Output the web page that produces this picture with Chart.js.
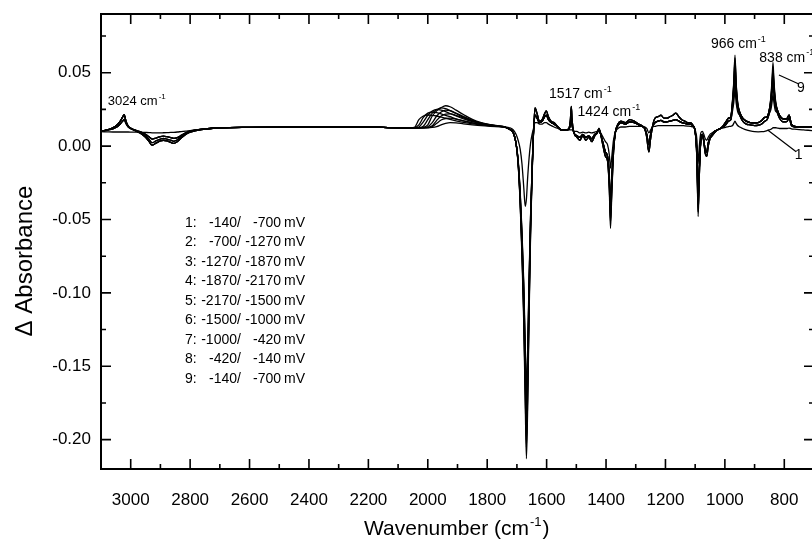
<!DOCTYPE html>
<html>
<head>
<meta charset="utf-8">
<script src="https://cdn.jsdelivr.net/npm/chart.js@4.4.1/dist/chart.umd.min.js"></script>
<style>
html, body { margin: 0; padding: 0; background: #fff; overflow: hidden; }
#wrap { position: relative; width: 814px; height: 543px; }
</style>
</head>
<body>
<div id="wrap"><canvas id="chart"></canvas></div>
<script>
// wavenumber grid (cm-1), shared by all nine difference spectra
const wavenumbers = [
  3100,3080,3060,3045,3035,3028,3022,3016,3008,2995,2980,2965,2950,2938,2928,2915,2900,2890,2878,2865,2855,2843,2830,2815,2800,2780,2750,2700,2600,2400,2200,
  2100,2060,2045,2030,2015,2000,1985,1970,1955,1940,1925,1905,1880,1850,1820,1790,1760,
  1740,1725,1712,1703,1696,1689,1683,1677,1672,1668,1664,1659,1654,1649,1644,1639,1632,1624,1615,1607,1601,1594,1585,1575,1562,
  1550,1535,1525,1520,1517,1514,1508,1498,1488,1478,1468,1458,1448,1438,1430,1424,1418,1410,1402,1395,1389,1385,1381,1375,1368,1360,1350,1335,1320,1305,
  1290,1280,1270,1263,1256,1250,1243,1235,1225,1215,1205,1195,1185,1175,1165,1155,1145,1135,1125,1115,1107,1100,1094,1090,1086,1081,1076,1071,1066,1061,1056,1050,1043,1035,1025,1015,
  1005,995,988,980,974,970,966,962,957,950,940,928,915,900,888,876,866,858,851,845,841,838,835,830,824,816,808,800,795,790,784,776,765,750,735,720,700
];

const abs1 = [
  .0098,.0097,.0096,.0096,.0096,.0096,.0096,.0096,.0096,.0095,.0095,.0094,.0093,.0092,.009,.009,.009,.0091,.0092,.0093,.0094,.0096,.0099,.0102,.0106,.011,.0117,.0124,.0128,.013,.013,
  .0125,.0125,.0125,.0125,.0125,.0125,.0127,.0133,.0145,.0155,.016,.0158,.0152,.0145,.0139,.0135,.0132,
  .013,.0125,.011,.008,.004,-.002,-.012,-.028,-.041,-.036,-.022,-.008,.002,.008,.012,.016,.016,.015,.015,.016,.016,.015,.014,.013,.012,
  .011,.011,.011,.011,.011,.011,.010,.010,.009,.0095,.009,.0095,.009,.0095,.010,.011,.009,.006,.003,.001,-.006,-.015,-.008,.004,.010,.012,.013,.013,.0135,.0135,
  .0135,.0135,.013,.012,.009,.011,.013,.0135,.014,.014,.014,.014,.014,.014,.014,.014,.014,.0138,.0136,.0134,.013,.011,.004,-.012,.000,.009,.010,.008,.005,.004,.006,.008,.009,.010,.011,.012,
  .0125,.013,.0133,.0135,.014,.0155,.017,.0155,.014,.013,.012,.011,.0103,.0098,.0097,.0098,.010,.0105,.011,.0115,.012,.0125,.0125,.0125,.0123,.012,.012,.012,.012,.012,.0123,.0118,.0115,.0112,.011,.0108,.0105
];
const abs2 = [
  .010,.0108,.0118,.0132,.015,.0168,.018,.0155,.013,.0115,.0105,.0095,.008,.0063,.0048,.0055,.0065,.0068,.0064,.0058,.0052,.0058,.0073,.009,.0102,.011,.0118,.0125,.0128,.013,.013,
  .0125,.0125,.0128,.018,.0205,.0212,.021,.0205,.0198,.019,.0182,.0172,.0162,.0152,.0145,.0138,.0133,
  .013,.0115,.009,.002,-.009,-.031,-.058,-.093,-.136,-.165,-.14,-.089,-.047,-.016,.010,.021,.019,.016,.017,.020,.021,.018,.016,.015,.013,
  .011,.011,.0115,.015,.020,.014,.009,.007,.006,.008,.006,.007,.005,.008,.009,.011,.008,.002,-.004,-.007,-.019,-.039,-.022,-.002,.010,.014,.016,.015,.0165,.016,
  .0145,.0135,.012,.008,.001,.008,.0135,.016,.017,.0175,.0165,.0165,.017,.0175,.018,.017,.016,.0155,.015,.015,.0135,.010,-.006,-.032,-.015,.004,.008,.004,-.003,-.004,.002,.006,.008,.010,.011,.012,
  .013,.015,.017,.018,.0244,.0298,.038,.0294,.0235,.021,.017,.015,.0145,.014,.0142,.015,.017,.018,.022,.025,.0302,.035,.0298,.0241,.023,.019,.017,.0165,.0165,.017,.019,.014,.013,.0128,.0127,.0127,.0127
];
const abs3 = [
  .010,.0108,.0118,.0132,.015,.0168,.018,.0155,.013,.0115,.0105,.0095,.008,.0063,.0048,.0055,.0065,.0068,.0064,.0058,.0052,.0058,.0073,.009,.0102,.011,.0118,.0125,.0128,.013,.013,
  .0125,.0125,.0126,.0145,.0195,.0225,.0232,.0228,.022,.021,.02,.0186,.0172,.0158,.0148,.014,.0134,
  .013,.0115,.009,.002,-.010,-.033,-.062,-.098,-.144,-.175,-.148,-.094,-.049,-.016,.010,.021,.019,.016,.017,.020,.021,.018,.016,.015,.013,
  .011,.011,.0115,.015,.020,.014,.009,.007,.006,.008,.006,.007,.005,.008,.009,.011,.008,.002,-.004,-.007,-.021,-.043,-.024,-.002,.010,.014,.016,.015,.0165,.016,
  .0145,.0135,.012,.008,.001,.008,.0135,.016,.017,.0175,.0165,.0165,.017,.0175,.018,.017,.016,.0155,.015,.015,.0135,.010,-.006,-.036,-.015,.004,.008,.004,-.003,-.004,.002,.006,.008,.010,.011,.012,
  .013,.015,.017,.018,.0272,.0351,.047,.0345,.0259,.021,.017,.015,.0145,.014,.0142,.015,.017,.018,.022,.0287,.0367,.044,.036,.0273,.023,.019,.017,.0165,.0165,.017,.019,.014,.013,.0128,.0127,.0127,.0127
];
const abs4 = [
  .010,.011,.0125,.0145,.017,.0195,.0215,.017,.0135,.0115,.010,.0085,.006,.003,.0007,.002,.0035,.004,.0035,.0025,.0018,.003,.0055,.008,.0095,.0105,.0115,.0125,.0128,.013,.013,
  .0125,.0125,.0125,.013,.0165,.021,.0238,.025,.0245,.0235,.0222,.0205,.0186,.0166,.0152,.0142,.0135,
  .013,.0115,.009,.002,-.011,-.036,-.067,-.107,-.156,-.19,-.160,-.102,-.053,-.018,.010,.021,.019,.016,.017,.020,.021,.018,.016,.015,.013,
  .011,.011,.0115,.015,.020,.014,.009,.007,.006,.008,.006,.007,.005,.008,.009,.011,.008,.002,-.004,-.007,-.023,-.047,-.026,-.002,.010,.014,.016,.015,.0165,.016,
  .0145,.0135,.012,.008,.001,.008,.0135,.016,.017,.0175,.0165,.0165,.017,.0175,.018,.017,.016,.0155,.015,.015,.0135,.010,-.006,-.040,-.015,.004,.008,.004,-.003,-.004,.002,.006,.008,.010,.011,.012,
  .013,.015,.017,.018,.0275,.0357,.048,.0351,.0262,.021,.017,.015,.0145,.014,.0142,.015,.017,.018,.022,.0295,.0381,.046,.0374,.0281,.023,.019,.017,.0165,.0165,.017,.019,.014,.013,.0128,.0127,.0127,.0127
];
const abs5 = [
  .010,.011,.0125,.0145,.017,.0195,.0215,.017,.0135,.0115,.010,.0085,.006,.003,.0007,.002,.0035,.004,.0035,.0025,.0018,.003,.0055,.008,.0095,.0105,.0115,.0125,.0128,.013,.013,
  .0125,.0125,.0125,.0126,.0135,.018,.0225,.0248,.026,.0255,.0242,.0222,.0198,.0174,.0156,.0144,.0136,
  .013,.0115,.009,.002,-.012,-.038,-.072,-.115,-.168,-.205,-.173,-.110,-.058,-.019,.010,.026,.022,.017,.018,.022,.024,.020,.017,.016,.013,
  .011,.011,.012,.018,.027,.017,.009,.006,.004,.007,.004,.006,.003,.007,.009,.012,.008,.000,-.007,-.010,-.028,-.052,-.033,-.005,.010,.015,.017,.016,.018,.017,
  .015,.014,.012,.006,-.004,.005,.014,.019,.020,.021,.019,.019,.020,.021,.0225,.020,.018,.017,.016,.016,.014,.010,-.010,-.045,-.020,.004,.008,.003,-.005,-.007,.000,.005,.007,.009,.011,.012,
  .014,.017,.019,.020,.0288,.0381,.052,.0373,.0273,.023,.019,.017,.016,.0158,.016,.0175,.0195,.020,.024,.0303,.0395,.048,.0388,.0288,.025,.021,.019,.0185,.0185,.019,.021,.015,.0135,.0132,.013,.013,.013
];
const abs6 = [
  .010,.011,.0125,.0145,.017,.0195,.0215,.017,.0135,.0115,.010,.0085,.006,.003,.0007,.002,.0035,.004,.0035,.0025,.0018,.003,.0055,.008,.0095,.0105,.0115,.0125,.0128,.013,.013,
  .0125,.0125,.0125,.0125,.0128,.0145,.0205,.024,.0262,.0275,.0268,.0245,.0215,.0182,.016,.0146,.0137,
  .013,.0115,.009,.002,-.012,-.04,-.075,-.12,-.175,-.213,-.18,-.115,-.06,-.02,.010,.026,.022,.017,.018,.022,.024,.020,.017,.016,.013,
  .011,.011,.012,.018,.027,.017,.009,.006,.004,.007,.004,.006,.003,.007,.009,.012,.008,.000,-.007,-.010,-.030,-.056,-.035,-.005,.010,.015,.017,.016,.018,.017,
  .015,.014,.012,.006,-.004,.005,.014,.019,.020,.021,.019,.019,.020,.021,.0225,.020,.018,.017,.016,.016,.014,.010,-.010,-.048,-.020,.004,.008,.003,-.005,-.007,.000,.005,.007,.009,.011,.012,
  .014,.017,.019,.020,.0298,.0399,.055,.039,.0281,.023,.019,.017,.016,.0158,.016,.0175,.0195,.020,.024,.0311,.041,.050,.0402,.0295,.025,.021,.019,.0185,.0185,.019,.021,.015,.0135,.0132,.013,.013,.013
];
const abs7 = [
  .010,.011,.0125,.0145,.017,.0195,.021,.0168,.0135,.0117,.0103,.009,.0068,.0045,.0023,.0035,.0048,.0053,.0048,.004,.0033,.0043,.0065,.0088,.010,.0108,.0117,.0125,.0128,.013,.013,
  .0125,.0125,.0125,.0125,.0126,.0132,.016,.0205,.0232,.0245,.0242,.0225,.0202,.0176,.0157,.0145,.0136,
  .013,.0115,.009,.002,-.011,-.038,-.071,-.113,-.165,-.20,-.169,-.108,-.056,-.019,.010,.026,.022,.017,.018,.022,.024,.020,.017,.016,.013,
  .011,.011,.012,.018,.027,.017,.009,.006,.004,.007,.004,.006,.003,.007,.009,.012,.008,.000,-.007,-.010,-.027,-.050,-.031,-.005,.010,.015,.017,.016,.018,.017,
  .015,.014,.012,.006,-.004,.005,.014,.019,.020,.021,.019,.019,.020,.021,.0225,.020,.018,.017,.016,.016,.014,.010,-.010,-.044,-.020,.004,.008,.003,-.005,-.007,.000,.005,.007,.009,.011,.012,
  .014,.017,.019,.020,.0307,.0416,.058,.0407,.0289,.023,.019,.017,.016,.0158,.016,.0175,.0195,.020,.024,.032,.0424,.052,.0415,.0302,.025,.021,.019,.0185,.0185,.019,.021,.015,.0135,.0132,.013,.013,.013
];
const abs8 = [
  .010,.011,.0125,.0145,.017,.0195,.021,.0168,.0135,.0117,.0103,.009,.0068,.0045,.0023,.0035,.0048,.0053,.0048,.004,.0033,.0043,.0065,.0088,.010,.0108,.0117,.0125,.0128,.013,.013,
  .0125,.0125,.0125,.0125,.0125,.0127,.0138,.0175,.0205,.0218,.022,.021,.0192,.017,.0153,.0143,.0135,
  .013,.0115,.009,.002,-.010,-.035,-.065,-.104,-.152,-.185,-.157,-.100,-.052,-.017,.010,.021,.019,.016,.017,.020,.021,.018,.016,.015,.013,
  .011,.011,.0115,.015,.020,.014,.009,.007,.006,.008,.006,.007,.005,.008,.009,.011,.008,.002,-.004,-.007,-.022,-.045,-.025,-.002,.010,.014,.016,.015,.0165,.016,
  .0145,.0135,.012,.008,.001,.008,.0135,.016,.017,.0175,.0165,.0165,.017,.0175,.018,.017,.016,.0155,.015,.015,.0135,.010,-.006,-.038,-.015,.004,.008,.004,-.003,-.004,.002,.006,.008,.010,.011,.012,
  .014,.017,.019,.020,.0314,.0428,.060,.0419,.0295,.023,.019,.017,.016,.0158,.016,.0175,.0195,.020,.024,.0328,.0438,.054,.0429,.0309,.025,.021,.019,.0185,.0185,.019,.021,.015,.0135,.0132,.013,.013,.013
];
const abs9 = [
  .010,.0108,.0118,.0132,.015,.0168,.018,.0155,.013,.0115,.0105,.0095,.008,.0063,.0048,.0055,.0065,.0068,.0064,.0058,.0052,.0058,.0073,.009,.0102,.011,.0118,.0125,.0128,.013,.013,
  .0125,.0125,.0125,.0125,.0125,.0126,.0132,.0155,.0178,.0188,.019,.0184,.0172,.0158,.0148,.014,.0134,
  .013,.0115,.009,.002,-.010,-.032,-.060,-.096,-.140,-.17,-.144,-.092,-.048,-.016,.010,.021,.019,.016,.017,.020,.021,.018,.016,.015,.013,
  .011,.011,.0115,.015,.020,.014,.009,.007,.006,.008,.006,.007,.005,.008,.009,.011,.008,.002,-.004,-.007,-.021,-.042,-.024,-.002,.010,.014,.016,.015,.0165,.016,
  .0145,.0135,.012,.008,.001,.008,.0135,.016,.017,.0175,.0165,.0165,.017,.0175,.018,.017,.016,.0155,.015,.015,.0135,.010,-.006,-.035,-.015,.004,.008,.004,-.003,-.004,.002,.006,.008,.010,.011,.012,
  .014,.017,.019,.020,.032,.044,.062,.043,.030,.023,.019,.017,.016,.0158,.016,.0175,.0195,.020,.024,.034,.046,.057,.045,.032,.025,.021,.019,.0185,.0185,.019,.021,.015,.0135,.0132,.013,.013,.013
];

const xTicks = [3000, 2800, 2600, 2400, 2200, 2000, 1800, 1600, 1400, 1200, 1000, 800];
const yTicks = [0.05, 0.00, -0.05, -0.10, -0.15, -0.20];

// potential steps of each spectrum
const stepNums = ['1:', '2:', '3:', '4:', '5:', '6:', '7:', '8:', '9:'];
const stepFrom = ['-140', '-700', '-1270', '-1870', '-2170', '-1500', '-1000', '-420', '-140'];
const stepTo = ['-700', '-1270', '-1870', '-2170', '-1500', '-1000', '-420', '-140', '-700'];

// band labels: text, left edge (cm-1), baseline (absorbance), font size
const bandText = ['3024', '1517', '1424', '966', '838'];
const bandWn = [3077, 1592, 1496, 1047, 884];
const bandY = [0.0283, 0.0325, 0.0205, 0.0666, 0.0575];
const bandSize = [13, 14, 14, 14, 14];

const FONT = '"Liberation Sans", Arial, Helvetica, sans-serif';

function supText(ctx, x, y, base, sup, size, tail) {
  ctx.font = size + 'px ' + FONT;
  ctx.fillText(base, x, y);
  let w = ctx.measureText(base).width;
  ctx.font = Math.round(size * 0.62) + 'px ' + FONT;
  ctx.fillText(sup, x + w + 1, y - size * 0.45);
  w += ctx.measureText(sup).width + 1;
  if (tail) {
    ctx.font = size + 'px ' + FONT;
    ctx.fillText(tail, x + w + 1, y);
  }
}

const frame = {
  id: 'frame',
  afterDraw(chart) {
    const {ctx, chartArea: a, scales: {x, y}} = chart;
    ctx.save();
    ctx.strokeStyle = '#000';
    ctx.fillStyle = '#000';
    ctx.lineWidth = 2;
    ctx.strokeRect(a.left, a.top, a.right - a.left, a.bottom - a.top);

    // inward ticks on all four sides
    ctx.lineWidth = 1.6;
    const tick = (px, len, vertical) => {
      ctx.beginPath();
      if (vertical) {
        ctx.moveTo(px, a.bottom); ctx.lineTo(px, a.bottom - len);
        ctx.moveTo(px, a.top); ctx.lineTo(px, a.top + len);
      } else {
        ctx.moveTo(a.left, px); ctx.lineTo(a.left + len, px);
        ctx.moveTo(a.right, px); ctx.lineTo(a.right - len, px);
      }
      ctx.stroke();
    };
    xTicks.forEach(v => tick(x.getPixelForValue(v), 10, true));
    xTicks.map(v => v + 100).filter(v => v < 3100).forEach(v => tick(x.getPixelForValue(v), 5, true));
    yTicks.forEach(v => tick(y.getPixelForValue(v), 10, false));
    yTicks.map(v => v + 0.025).forEach(v => tick(y.getPixelForValue(v), 5, false));

    // band labels
    ctx.textAlign = 'left';
    ctx.textBaseline = 'alphabetic';
    bandText.forEach((t, i) => {
      supText(ctx, x.getPixelForValue(bandWn[i]), y.getPixelForValue(bandY[i]), t + ' cm', '-1', bandSize[i]);
    });

    // leader lines for spectra 9 and 1
    ctx.lineWidth = 1.2;
    ctx.beginPath();
    ctx.moveTo(x.getPixelForValue(818), y.getPixelForValue(0.0484));
    ctx.lineTo(x.getPixelForValue(751), y.getPixelForValue(0.0423));
    ctx.moveTo(x.getPixelForValue(856), y.getPixelForValue(0.0109));
    ctx.lineTo(x.getPixelForValue(760), y.getPixelForValue(-0.0039));
    ctx.stroke();
    ctx.font = '14px ' + FONT;
    ctx.textAlign = 'center';
    ctx.textBaseline = 'middle';
    ctx.fillText('9', x.getPixelForValue(744), y.getPixelForValue(0.0394));
    ctx.fillText('1', x.getPixelForValue(752), y.getPixelForValue(-0.0061));

    // potential list
    ctx.textBaseline = 'middle';
    ctx.font = '14px ' + FONT;
    stepNums.forEach((n, i) => {
      const cy = 223 + 19.5 * i;
      ctx.textAlign = 'left';
      ctx.fillText(n, 185, cy);
      ctx.textAlign = 'right';
      ctx.fillText(stepFrom[i], 237, cy);
      ctx.fillText(stepTo[i], 281, cy);
      ctx.textAlign = 'left';
      ctx.fillText('/', 237, cy);
      ctx.fillText('mV', 284, cy);
    });

    // axis titles
    ctx.textAlign = 'left';
    ctx.textBaseline = 'alphabetic';
    ctx.font = '21px ' + FONT;
    const wTitle = ctx.measureText('Wavenumber (cm').width + 10 + ctx.measureText(')').width;
    supText(ctx, 455 - wTitle / 2, 535, 'Wavenumber (cm', '-1', 21, ')');
    ctx.save();
    ctx.translate(32, 261);
    ctx.rotate(-Math.PI / 2);
    ctx.textAlign = 'center';
    ctx.font = '24px ' + FONT;
    ctx.fillText('\u0394 Absorbance', 0, 0);
    ctx.restore();
    ctx.restore();
  }
};

const series = [abs1, abs2, abs3, abs4, abs5, abs6, abs7, abs8, abs9];

new Chart(document.getElementById('chart'), {
  type: 'line',
  data: {
    datasets: series.map(arr => ({
      data: wavenumbers.map((w, i) => ({x: w, y: arr[i]})),
      borderColor: '#000',
      borderWidth: 1.3,
      pointRadius: 0,
      fill: false,
      cubicInterpolationMode: 'monotone'
    }))
  },
  options: {
    animation: false,
    responsive: true,
    maintainAspectRatio: false,
    devicePixelRatio: 1,
    layout: { padding: { top: 14, right: 0, bottom: 0, left: 0 } },
    plugins: { legend: { display: false }, tooltip: { enabled: false } },
    scales: {
      x: {
        type: 'linear', reverse: true, min: 700, max: 3100,
        afterBuildTicks: s => { s.ticks = xTicks.map(v => ({ value: v })); },
        afterFit: s => { s.height = 74; s.paddingLeft = 0; s.paddingRight = 0; },
        grid: { display: false, drawTicks: false },
        border: { display: false },
        ticks: { autoSkip: false, maxRotation: 0, padding: 21, color: '#000',
                 font: { family: FONT, size: 17 }, callback: v => String(v) }
      },
      y: {
        type: 'linear', min: -0.22, max: 0.09,
        afterBuildTicks: s => { s.ticks = yTicks.map(v => ({ value: v })); },
        afterFit: s => { s.width = 101; s.paddingTop = 0; s.paddingBottom = 0; },
        grid: { display: false, drawTicks: false },
        border: { display: false },
        ticks: { padding: 10, color: '#000', font: { family: FONT, size: 17 },
                 callback: v => v.toFixed(2) }
      }
    }
  },
  plugins: [frame]
});
</script>
</body>
</html>
